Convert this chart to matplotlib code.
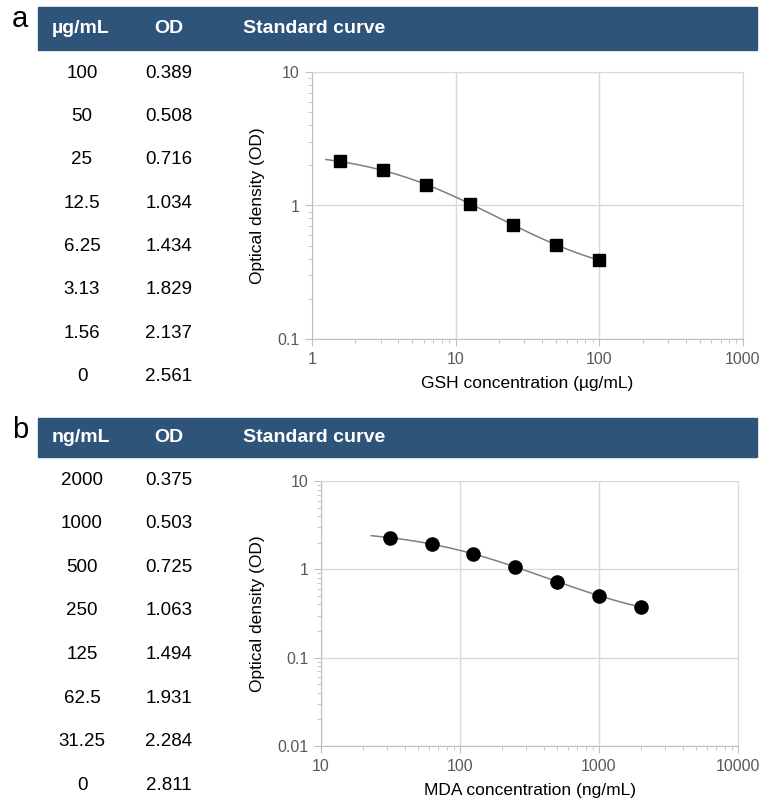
import numpy as np
import matplotlib
matplotlib.use("Agg")
import matplotlib.pyplot as plt
from matplotlib.ticker import LogLocator, NullFormatter, FixedLocator, FixedFormatter

plt.rcParams['font.family'] = ['Liberation Sans', 'DejaVu Sans']

# Panel a: GSH standards
gsh_conc = ["100", "50", "25", "12.5", "6.25", "3.13", "1.56", "0"]
gsh_od = ["0.389", "0.508", "0.716", "1.034", "1.434", "1.829", "2.137", "2.561"]
gsh_x = [1.56, 3.13, 6.25, 12.5, 25, 50, 100]
gsh_y = [2.137, 1.829, 1.434, 1.034, 0.716, 0.508, 0.389]

# Panel b: MDA standards
mda_conc = ["2000", "1000", "500", "250", "125", "62.5", "31.25", "0"]
mda_od = ["0.375", "0.503", "0.725", "1.063", "1.494", "1.931", "2.284", "2.811"]
mda_x = [31.25, 62.5, 125, 250, 500, 1000, 2000]
mda_y = [2.284, 1.931, 1.494, 1.063, 0.725, 0.503, 0.375]

W, H = 770, 805
fig = plt.figure(figsize=(W / 100, H / 100), dpi=100)

HEAD = '#2F5479'
GRID = '#D9D9D9'
AX = '#BFBFBF'
TXT = '#595959'


def fx(px):
    return px / W


def fy(py):
    return 1 - py / H


def fit_4pl(x, y):
    # grid over slope and midpoint, top/bottom solved by least squares
    x = np.asarray(x, float)
    y = np.asarray(y, float)
    best = None
    for b in np.linspace(0.2, 3, 141):
        for c in np.logspace(np.log10(x.min()) - 1, np.log10(x.max()) + 1, 201):
            g = 1 / (1 + (x / c) ** b)
            A = np.column_stack([g, 1 - g])
            p, *_ = np.linalg.lstsq(A, y, rcond=None)
            err = np.sum((A @ p - y) ** 2)
            if best is None or err < best[0]:
                best = (err, p[0], p[1], b, c)
    _, a, d, b, c = best
    return lambda t: d + (a - d) / (1 + (t / c) ** b)


def header(label, unit, top, bottom, row0, step, conc, od):
    fig.patches.append(plt.Rectangle((fx(38), fy(bottom)), fx(757) - fx(38), fy(top) - fy(bottom),
                                     transform=fig.transFigure, color=HEAD, zorder=0))
    yc = fy((top + bottom) / 2)
    fig.text(fx(20), fy(top + 12), label, fontsize=21, ha='center', va='center')
    fig.text(fx(81), yc, unit, color='white', fontsize=14, fontweight='bold', ha='center', va='center')
    fig.text(fx(169), yc, "OD", color='white', fontsize=14, fontweight='bold', ha='center', va='center')
    fig.text(fx(243), yc, "Standard curve", color='white', fontsize=14, fontweight='bold',
             ha='left', va='center')
    for i, (c, o) in enumerate(zip(conc, od)):
        y = fy(row0 + i * step)
        fig.text(fx(82), y, c, fontsize=13.5, ha='center', va='center')
        fig.text(fx(169), y, o, fontsize=13.5, ha='center', va='center')


def curve_panel(ax, x, y, xlim, ylim, xlabel, marker, ms, xstart):
    f = fit_4pl(x, y)
    xs = np.logspace(np.log10(xstart), np.log10(x[-1]), 200)
    ax.plot(xs, f(xs), color='#7F7F7F', lw=1.1, zorder=2)
    ax.plot(x, y, linestyle='none', marker=marker, ms=ms, color='black', zorder=3, clip_on=False)
    ax.set_xscale('log')
    ax.set_yscale('log')
    ax.set_xlim(*xlim)
    ax.set_ylim(*ylim)
    xt = [10 ** k for k in range(int(round(np.log10(xlim[0]))), int(round(np.log10(xlim[1]))) + 1)]
    yt = [10 ** k for k in range(int(round(np.log10(ylim[0]))), int(round(np.log10(ylim[1]))) + 1)]
    ax.xaxis.set_major_locator(FixedLocator(xt))
    ax.xaxis.set_major_formatter(FixedFormatter([f"{v:g}" for v in xt]))
    ax.yaxis.set_major_locator(FixedLocator(yt))
    ax.yaxis.set_major_formatter(FixedFormatter([f"{v:g}" for v in yt]))
    ax.xaxis.set_minor_locator(LogLocator(base=10, subs=np.arange(2, 10)))
    ax.yaxis.set_minor_locator(LogLocator(base=10, subs=np.arange(2, 10)))
    ax.xaxis.set_minor_formatter(NullFormatter())
    ax.yaxis.set_minor_formatter(NullFormatter())
    ax.grid(True, which='major', color=GRID, lw=1)
    ax.set_axisbelow(True)
    for s in ['top', 'right']:
        ax.spines[s].set_color(GRID)
    for s in ['left', 'bottom']:
        ax.spines[s].set_color(AX)
    ax.tick_params(which='major', length=5, color=AX, labelsize=11.5, labelcolor=TXT, pad=4)
    ax.tick_params(which='minor', length=3, color=AX)
    ax.set_xlabel(xlabel, fontsize=12.5, labelpad=7)
    ax.set_ylabel("Optical density (OD)", fontsize=12.5, labelpad=9)


header("a", "µg/mL", 7, 50, 73, 43.4, gsh_conc, gsh_od)
header("b", "ng/mL", 418, 457, 480, 43.6, mda_conc, mda_od)

ax1 = fig.add_axes([fx(312), fy(339), fx(743) - fx(312), fy(72) - fy(339)])
curve_panel(ax1, gsh_x, gsh_y, (1, 1000), (0.1, 10), "GSH concentration (µg/mL)", 's', 8.5, 1.25)

ax2 = fig.add_axes([fx(321), fy(746), fx(738) - fx(321), fy(481) - fy(746)])
curve_panel(ax2, mda_x, mda_y, (10, 10000), (0.01, 10), "MDA concentration (ng/mL)", 'o', 9.5, 23)

fig.savefig("out.png", dpi=100)
